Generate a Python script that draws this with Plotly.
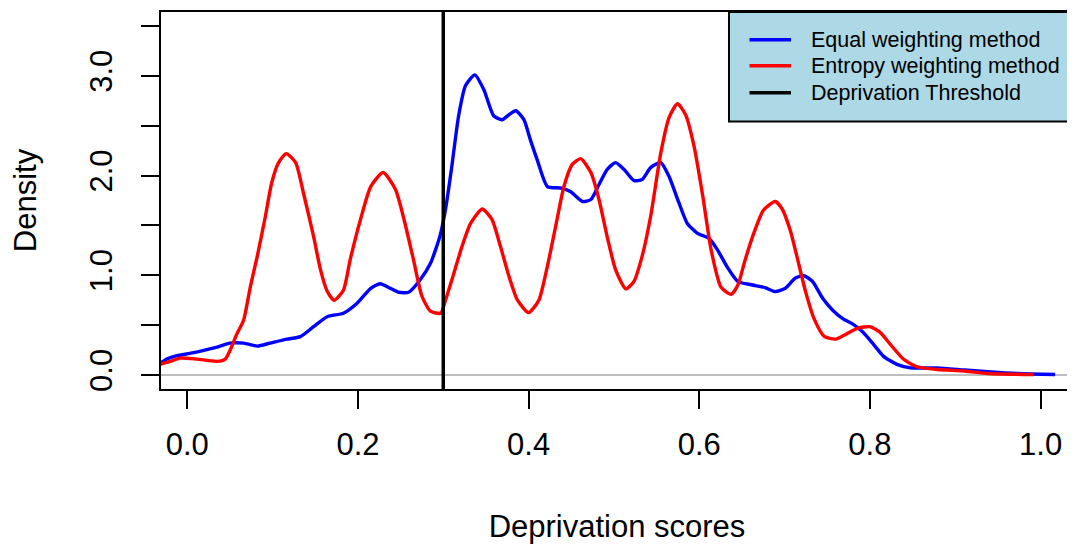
import plotly.graph_objects as go

# ---- data ----
equal_x = [-0.031, -0.024, -0.012, 0.003, 0.018, 0.035, 0.050, 0.066, 0.082, 0.097,
           0.117, 0.1325, 0.148, 0.164, 0.183, 0.199, 0.215, 0.226, 0.238, 0.248,
           0.2595, 0.273, 0.285, 0.296, 0.3026, 0.3095, 0.318, 0.326, 0.337, 0.3476,
           0.359, 0.369, 0.377, 0.385, 0.3945, 0.402, 0.410, 0.422, 0.4375, 0.449,
           0.463, 0.473, 0.4825, 0.492, 0.502, 0.512, 0.5235, 0.533, 0.543, 0.555,
           0.5646, 0.576, 0.586, 0.598, 0.6115, 0.621, 0.633, 0.645, 0.661, 0.677,
           0.689, 0.7009, 0.7127, 0.7226, 0.7326, 0.7446, 0.7564, 0.7682, 0.780, 0.792,
           0.804, 0.8157, 0.8316, 0.8475, 0.879, 0.911, 0.9425, 0.974, 1.017]
equal_y = [0.12, 0.16, 0.194, 0.217, 0.245, 0.28, 0.32, 0.32, 0.29, 0.32,
           0.36, 0.385, 0.485, 0.585, 0.62, 0.72, 0.87, 0.915, 0.87, 0.83,
           0.83, 0.955, 1.12, 1.39, 1.66, 2.06, 2.60, 2.90, 3.01, 2.86,
           2.60, 2.56, 2.61, 2.65, 2.56, 2.36, 2.16, 1.89, 1.875, 1.84,
           1.74, 1.76, 1.91, 2.06, 2.13, 2.06, 1.95, 1.96, 2.08, 2.13,
           1.99, 1.73, 1.52, 1.42, 1.37, 1.26, 1.08, 0.94, 0.905, 0.877,
           0.836, 0.87, 0.973, 0.996, 0.94, 0.77, 0.65, 0.565, 0.51, 0.43,
           0.31, 0.19, 0.107, 0.072, 0.072, 0.05, 0.03, 0.015, 0.005]

entropy_x = [-0.031, -0.020, -0.0085, 0.011, 0.035, 0.0445, 0.050, 0.058, 0.066, 0.074,
             0.082, 0.0915, 0.099, 0.107, 0.116, 0.127, 0.136, 0.148, 0.156, 0.164,
             0.172, 0.183, 0.191, 0.203, 0.215, 0.2295, 0.244, 0.254, 0.265, 0.275,
             0.285, 0.297, 0.3026, 0.3124, 0.322, 0.332, 0.3457, 0.357, 0.367, 0.377,
             0.387, 0.400, 0.412, 0.422, 0.4317, 0.4414, 0.451, 0.461, 0.473, 0.4825,
             0.492, 0.502, 0.514, 0.5235, 0.533, 0.543, 0.555, 0.5646, 0.5744, 0.584,
             0.594, 0.604, 0.614, 0.6256, 0.6375, 0.6454, 0.6533, 0.663, 0.675, 0.689,
             0.6968, 0.7067, 0.7147, 0.7246, 0.7345, 0.7464, 0.760, 0.772, 0.786, 0.800,
             0.8117, 0.8237, 0.8395, 0.8554, 0.879, 0.911, 0.9387, 0.992]
entropy_y = [0.11, 0.137, 0.17, 0.16, 0.137, 0.16, 0.245, 0.41, 0.55, 0.89,
             1.19, 1.59, 1.93, 2.13, 2.22, 2.13, 1.83, 1.39, 1.06, 0.84,
             0.75, 0.85, 1.16, 1.56, 1.89, 2.03, 1.86, 1.56, 1.16, 0.79,
             0.64, 0.62, 0.75, 1.02, 1.29, 1.52, 1.665, 1.56, 1.29, 0.99,
             0.75, 0.626, 0.75, 1.09, 1.49, 1.89, 2.11, 2.17, 2.03, 1.76,
             1.39, 1.055, 0.864, 0.94, 1.19, 1.59, 2.23, 2.58, 2.72, 2.61,
             2.29, 1.80, 1.25, 0.88, 0.81, 0.905, 1.14, 1.40, 1.65, 1.74,
             1.67, 1.45, 1.18, 0.836, 0.565, 0.388, 0.36, 0.41, 0.47, 0.485,
             0.43, 0.31, 0.158, 0.083, 0.055, 0.04, 0.015, 0.005]

threshold = 0.3

series_names = ["Equal weighting method", "Entropy weighting method", "Deprivation Threshold"]
series_colors = ["#0000FF", "#FF0000", "#000000"]

x_tickvals = [0.0, 0.2, 0.4, 0.6, 0.8, 1.0]
x_ticktext = ["0.0", "0.2", "0.4", "0.6", "0.8", "1.0"]
y_tickvals = [0.0, 0.5, 1.0, 1.5, 2.0, 2.5, 3.0, 3.5]
y_ticktext = ["0.0", "", "1.0", "", "2.0", "", "3.0", ""]

x_range = [-0.0308, 1.038]
y_range = [-0.14, 3.64]

FONT = "Liberation Sans, Arial, sans-serif"

# the page body adds an 8px offset, so the figure is 8px smaller and shifted
OFF = 8
FIG_W, FIG_H = 1075 - OFF, 548 - OFF
W, H, L, T = 912, 377, 161 - OFF, 12 - OFF


def px(X):
    return (X - OFF - L) / W


def py(Y):
    return (T + H - (Y - OFF)) / H


fig = go.Figure()
fig.add_trace(go.Scatter(x=equal_x, y=equal_y, mode="lines", name=series_names[0],
                         line=dict(color=series_colors[0], width=3.4, shape="spline", smoothing=0.6),
                         showlegend=False))
fig.add_trace(go.Scatter(x=entropy_x, y=entropy_y, mode="lines", name=series_names[1],
                         line=dict(color=series_colors[1], width=3.4, shape="spline", smoothing=0.6),
                         showlegend=False))
fig.add_vline(x=threshold, line_color=series_colors[2], line_width=3.5, layer="above")

# legend drawn as a box in the top-right corner (like R's legend("topright"))
fig.add_shape(type="rect", xref="paper", yref="paper",
              x0=px(729), x1=1.0, y0=py(121.5), y1=1.0,
              fillcolor="#ADD8E6", line=dict(color="black", width=2), layer="above")
rows_y = [39.7, 65.7, 92.8]
for name, color, ry in zip(series_names, series_colors, rows_y):
    fig.add_shape(type="line", xref="paper", yref="paper",
                  x0=px(749.5), x1=px(791), y0=py(ry), y1=py(ry),
                  line=dict(color=color, width=3.4), layer="above")
    fig.add_annotation(x=px(809), y=py(ry), xref="paper", yref="paper",
                       text=name, showarrow=False, xanchor="left", yanchor="middle",
                       font=dict(family=FONT, size=21.5, color="black"))

fig.update_layout(
    width=FIG_W, height=FIG_H,
    margin=dict(l=L, r=FIG_W - L - W, t=T, b=FIG_H - T - H, autoexpand=False),
    paper_bgcolor="white", plot_bgcolor="white",
    font=dict(family=FONT, size=31, color="black"),
    showlegend=False,
)
fig.update_xaxes(range=x_range, tickvals=x_tickvals, ticktext=x_ticktext,
                 automargin=False,
                 showgrid=False, zeroline=False,
                 showline=True, mirror=True, linecolor="black", linewidth=2,
                 ticks="outside", ticklen=18, tickwidth=2, tickcolor="black",
                 ticklabelstandoff=9,
                 tickfont=dict(family=FONT, size=31, color="black"),
                 title=dict(text="Deprivation scores", standoff=54,
                            font=dict(family=FONT, size=31, color="black")))
fig.update_yaxes(range=y_range, tickvals=y_tickvals, ticktext=y_ticktext,
                 automargin=False,
                 showgrid=False, zeroline=True, zerolinecolor="#BEBEBE", zerolinewidth=2,
                 showline=True, mirror=True, linecolor="black", linewidth=2,
                 ticks="outside", ticklen=18, tickwidth=2, tickcolor="black",
                 tickangle=-90, ticklabelstandoff=17,
                 tickfont=dict(family=FONT, size=31, color="black"),
                 title=dict(text="Density", standoff=42,
                            font=dict(family=FONT, size=31, color="black")))

fig.write_html("out.html")
